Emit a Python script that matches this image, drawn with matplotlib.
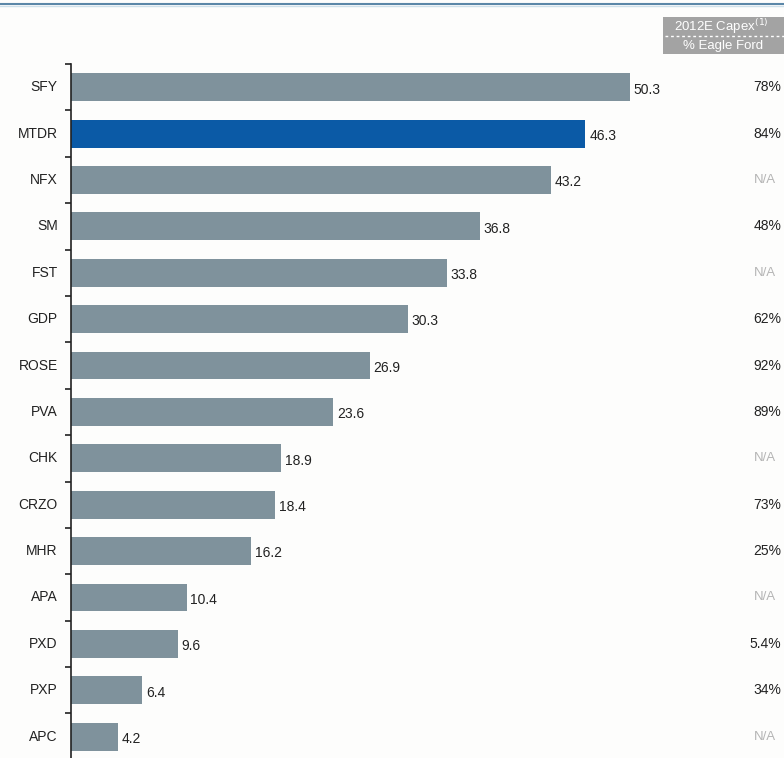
import matplotlib.pyplot as plt
from matplotlib.patches import Rectangle

plt.rcParams['font.family'] = ['Liberation Sans', 'DejaVu Sans']

tickers = ['SFY', 'MTDR', 'NFX', 'SM', 'FST', 'GDP', 'ROSE', 'PVA', 'CHK',
           'CRZO', 'MHR', 'APA', 'PXD', 'PXP', 'APC']
values = [50.3, 46.3, 43.2, 36.8, 33.8, 30.3, 26.9, 23.6, 18.9, 18.4,
          16.2, 10.4, 9.6, 6.4, 4.2]
eagle_ford = ['78%', '84%', 'N/A', '48%', 'N/A', '62%', '92%', '89%', 'N/A',
              '73%', '25%', 'N/A', '5.4%', '34%', 'N/A']

W, H = 784, 758
fig = plt.figure(figsize=(W / 100, H / 100), dpi=100)
fig.patch.set_facecolor('#fdfdfc')

# top rule
fig.add_artist(plt.Line2D([0, 1], [1 - 4 / H, 1 - 4 / H], color='#5b87a8', lw=1.5))
fig.add_artist(plt.Line2D([0, 1], [1 - 6 / H, 1 - 6 / H], color='#cfe0ea', lw=1))

ax = fig.add_axes([71 / W, 0, 1 - 71 / W, 1 - 64 / H])
ax.set_facecolor('none')
colors = ['#0b5aa6' if t == 'MTDR' else '#7f929c' for t in tickers]
y = range(len(tickers))
ax.barh(y, values, height=0.6, color=colors)
ax.set_xlim(0, (W - 71) / 11.11)
ax.set_ylim(14.46, -0.5)

for s in ['top', 'right', 'bottom']:
    ax.spines[s].set_visible(False)
ax.spines['left'].set_color('#222222')
ax.spines['left'].set_linewidth(1.2)
ax.set_xticks([])
ax.set_yticks([i - 0.5 for i in range(len(tickers))])
ax.set_yticklabels([])
ax.tick_params(axis='y', length=4, width=1.2, color='#222222')

trans = ax.get_yaxis_transform()
for i, (t, v, e) in enumerate(zip(tickers, values, eagle_ford)):
    ax.text(-1.2, i, t, ha='right', va='center', fontsize=10, color='#222222')
    ax.text(v + 0.35, i + 0.05, f'{v:.1f}', ha='left', va='center', fontsize=10, color='#222222')
    if e == 'N/A':
        ax.text((765 - 71) / (W - 71), i, e, transform=trans, ha='center', va='center',
                fontsize=9.5, color='#b5b5b5')
    else:
        ax.text((781 - 71) / (W - 71), i, e, transform=trans, ha='right', va='center',
                fontsize=10, color='#222222')

# header box
fig.add_artist(Rectangle((663 / W, 1 - 54 / H), (W - 663) / W, 37 / H,
                         transform=fig.transFigure, facecolor='#a3a3a3', edgecolor='none'))
fig.add_artist(plt.Line2D([665 / W, 1], [1 - 36 / H, 1 - 36 / H], color='white',
                          lw=1, ls=(0, (2, 2))))
fig.text(721 / W, 1 - 27 / H, '2012E Capex$^{(1)}$', ha='center', va='center',
         fontsize=9.5, color='white')
fig.text(723 / W, 1 - 46 / H, '% Eagle Ford', ha='center', va='center',
         fontsize=9.5, color='white')

fig.savefig('out.png', dpi=100, facecolor=fig.get_facecolor())
